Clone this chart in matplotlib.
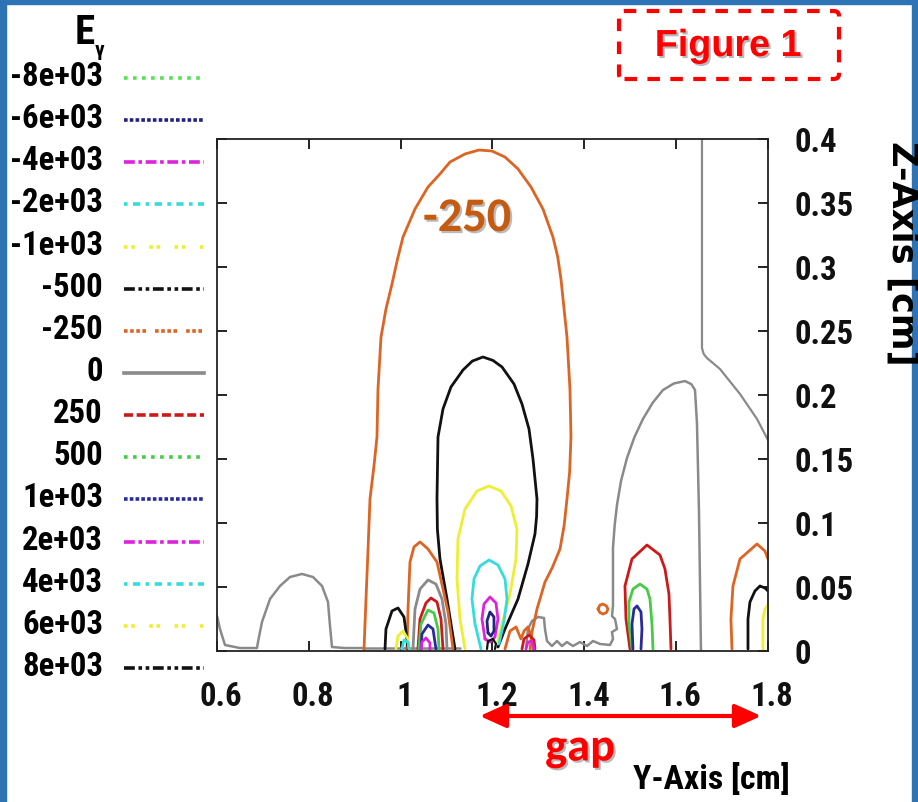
import matplotlib
matplotlib.use("Agg")
import matplotlib.pyplot as plt
from matplotlib import font_manager
from matplotlib.lines import Line2D
from matplotlib.patches import FancyBboxPatch, FancyArrowPatch, Rectangle
from matplotlib.transforms import ScaledTranslation
import matplotlib.patheffects as pe

# key of the contour levels (E_y)
levels = ["-8e+03", "-6e+03", "-4e+03", "-2e+03", "-1e+03", "-500", "-250", "0",
          "250", "500", "1e+03", "2e+03", "4e+03", "6e+03", "8e+03"]
level_colors = ["#55e055", "#23237f", "#dd22dd", "#33dddd", "#eeee33", "#111111",
                "#dd6422", "#8a8a8a", "#cc1a1a", "#44cc44", "#2a2aa0", "#dd22dd",
                "#33dddd", "#eeee33", "#111111"]
level_dashes = [(0, (1, 1.5)), (0, (1, 0.6)), (0, (3, 1, 1, 1)), (0, (1, 1.5, 2, 1.5)),
                (0, (1, 1, 1, 4)), (0, (3, 1, 1, 1, 1, 1)), (0, (1, 0.7, 1, 0.7, 1, 0.7, 1, 2.5)),
                "-", (0, (2.5, 1)), (0, (1, 1.5)), (0, (1, 0.6)), (0, (3, 1, 1, 1)),
                (0, (1, 1.5, 2, 1.5)), (0, (1, 1, 1, 4)), (0, (3, 1, 1, 1, 1, 1))]

x_ticks = [0.6, 0.8, 1.0, 1.2, 1.4, 1.6, 1.8]
x_ticklabels = ["0.6", "0.8", "1", "1.2", "1.4", "1.6", "1.8"]
z_ticks = [0, 0.05, 0.1, 0.15, 0.2, 0.25, 0.3, 0.35, 0.4]
z_ticklabels = ["0", "0.05", "0.1", "0.15", "0.2", "0.25", "0.3", "0.35", "0.4"]

# traced contour lines, (Y, Z) in cm
big_m250 = [(0.920, 0.000), (0.9245, 0.0406), (0.9290, 0.0800), (0.9332, 0.1188),
            (0.9420, 0.1450), (0.9484, 0.1672), (0.9506, 0.2047), (0.9572, 0.2453),
            (0.968, 0.2672), (0.9811, 0.2867), (0.9930, 0.3060), (1.0051, 0.3234),
            (1.0312, 0.3453), (1.0595, 0.3625), (1.0856, 0.3727), (1.1074, 0.3820),
            (1.1401, 0.3883), (1.1706, 0.3914), (1.1989, 0.3906), (1.2272, 0.3859),
            (1.2555, 0.3766), (1.2838, 0.3625), (1.3099, 0.3453), (1.3317, 0.3234),
            (1.3420, 0.3080), (1.3491, 0.2906), (1.3622, 0.2453), (1.3687, 0.2047),
            (1.3709, 0.1672), (1.3680, 0.1400), (1.3622, 0.1188), (1.3560, 0.0980),
            (1.3470, 0.0797), (1.3300, 0.0650), (1.3143, 0.0539), (1.2969, 0.0328),
            (1.2860, 0.0148), (1.2817, 0.0016)]
mid_m500 = [(1.1183, 0.0016), (1.1009, 0.0406), (1.0856, 0.0719), (1.0800, 0.0950),
            (1.0791, 0.1188), (1.0813, 0.1672), (1.0922, 0.1891), (1.1096, 0.2063),
            (1.1357, 0.2195), (1.1560, 0.2265), (1.1793, 0.2297), (1.2010, 0.2270),
            (1.2207, 0.2219), (1.2468, 0.2086), (1.2642, 0.1930), (1.2795, 0.1734),
            (1.2882, 0.1500), (1.2969, 0.1188), (1.2960, 0.1050), (1.2925, 0.0914),
            (1.2773, 0.0680), (1.2555, 0.0406), (1.2272, 0.0172), (1.2119, 0.0031)]
mid_m1e3 = [(1.1401, 0.0016), (1.1292, 0.0250), (1.1227, 0.0563), (1.1248, 0.0875),
            (1.1401, 0.1109), (1.1662, 0.1250), (1.1924, 0.1289), (1.2185, 0.1250),
            (1.2403, 0.1133), (1.2533, 0.0953), (1.2511, 0.0719), (1.2381, 0.0445),
            (1.2207, 0.0211), (1.2098, 0.0055)]
mid_m2e3 = [(1.1749, 0.0016), (1.1619, 0.0211), (1.1553, 0.0406), (1.1597, 0.0563),
            (1.1728, 0.0664), (1.1924, 0.0711), (1.2119, 0.0672), (1.2272, 0.0563),
            (1.2316, 0.0406), (1.2250, 0.0234), (1.2141, 0.0055)]
mid_m4e3 = [(1.1836, 0.0094), (1.1771, 0.0250), (1.1815, 0.0367), (1.1945, 0.0422),
            (1.2076, 0.0375), (1.2119, 0.0250), (1.2054, 0.0109), (1.1945, 0.0070),
            (1.1836, 0.0094)]
mid_m6e3 = [(1.1902, 0.0141), (1.1880, 0.0234), (1.1945, 0.0305), (1.2032, 0.0266),
            (1.2032, 0.0156), (1.1967, 0.0117), (1.1902, 0.0141)]
mid_m500_dot = [(1.1880, 0.0016), (1.1902, 0.0078), (1.2010, 0.0094), (1.2076, 0.0055),
                (1.2054, 0.0016)]

left_m250 = [(1.0138, 0.0016), (1.0160, 0.0328), (1.0203, 0.0695), (1.0290, 0.0813),
             (1.0421, 0.0852), (1.0595, 0.0797), (1.0791, 0.0695), (1.0922, 0.0484),
             (1.1031, 0.0305), (1.1096, 0.0133), (1.1140, 0.0016)]
left_0 = [(1.0268, 0.0016), (1.0312, 0.0328), (1.0421, 0.0484), (1.0595, 0.0555),
          (1.0769, 0.0523), (1.0900, 0.0406), (1.0987, 0.0211), (1.1009, 0.0016)]
left_250 = [(1.0377, 0.0016), (1.0421, 0.0250), (1.0551, 0.0375), (1.0660, 0.0414),
            (1.0791, 0.0383), (1.0878, 0.0250), (1.0922, 0.0016)]
left_500 = [(1.0399, 0.0016), (1.0443, 0.0211), (1.0595, 0.0320), (1.0726, 0.0297),
            (1.0813, 0.0172), (1.0834, 0.0016)]
left_1e3 = [(1.0443, 0.0016), (1.0464, 0.0133), (1.0595, 0.0203), (1.0704, 0.0172),
            (1.0769, 0.0016)]
left_2e3 = [(1.0443, 0.0008), (1.0464, 0.0070), (1.0551, 0.0102), (1.0638, 0.0063),
            (1.0638, 0.0008)]
left_8e3 = [(0.9659, 0.0016), (0.9680, 0.0172), (0.9811, 0.0313), (0.9942, 0.0336),
            (1.0072, 0.0266), (1.0138, 0.0094), (1.0160, 0.0016)]
left_6e3 = [(0.9898, 0.0016), (0.9942, 0.0117), (1.0051, 0.0156), (1.0160, 0.0094),
            (1.0181, 0.0016)]
left_4e3 = [(1.0029, 0.0016), (1.0072, 0.0086), (1.0160, 0.0070), (1.0181, 0.0016)]

gap_m250 = [(1.2272, 0.0016), (1.2381, 0.0156), (1.2512, 0.0188), (1.2620, 0.0094),
            (1.2686, 0.0156), (1.2773, 0.0188), (1.2860, 0.0094), (1.2880, 0.0016)]
gap_250 = [(1.2642, 0.0016), (1.2686, 0.0094), (1.2795, 0.0125), (1.2904, 0.0086),
           (1.2925, 0.0016)]
gap_2e3 = [(1.2729, 0.0016), (1.2773, 0.0070), (1.2860, 0.0078), (1.2904, 0.0016)]
gap_m250_ring = [(1.4297, 0.0328), (1.4340, 0.0359), (1.4406, 0.0367), (1.4480, 0.0352),
                 (1.4515, 0.0328), (1.4480, 0.0300), (1.4406, 0.0289), (1.4340, 0.0300),
                 (1.4297, 0.0328)]

zero_arc = [(1.2729, 0.0016), (1.2773, 0.0172), (1.2860, 0.0234), (1.2991, 0.0266),
            (1.3121, 0.0258), (1.3143, 0.0172), (1.3187, 0.0078), (1.3295, 0.0039),
            (1.3404, 0.0078), (1.3513, 0.0039), (1.3622, 0.0070), (1.3753, 0.0039),
            (1.3905, 0.0070), (1.4058, 0.0039), (1.4189, 0.0078), (1.4341, 0.0055),
            (1.4559, 0.0047), (1.4624, 0.0094), (1.4602, 0.0148), (1.4711, 0.0172),
            (1.4668, 0.0250), (1.4602, 0.0273), (1.4624, 0.0352), (1.4624, 0.0430),
            (1.4624, 0.0805), (1.4660, 0.0980), (1.4711, 0.1141), (1.4800, 0.1330),
            (1.4929, 0.1508), (1.5090, 0.1670), (1.5277, 0.1813), (1.5490, 0.1940),
            (1.5713, 0.2039), (1.5950, 0.2090), (1.6192, 0.2109), (1.6330, 0.2085),
            (1.6410, 0.2039), (1.6453, 0.1781), (1.6497, 0.1086), (1.6540, 0.0008)]
zero_top = [(1.6562, 0.4000), (1.6562, 0.2367), (1.6600, 0.2320), (1.6671, 0.2289),
            (1.6954, 0.2203), (1.7390, 0.2008), (1.7760, 0.1813), (1.8000, 0.1648)]
zero_left = [(0.6000, 0.0273), (0.6065, 0.0172), (0.6174, 0.0047), (0.6501, 0.0023),
             (0.6871, 0.0023), (0.6893, 0.0070), (0.6980, 0.0227), (0.7154, 0.0406),
             (0.7372, 0.0508), (0.7590, 0.0578), (0.7851, 0.0602), (0.8091, 0.0578),
             (0.8287, 0.0508), (0.8417, 0.0383), (0.8461, 0.0195), (0.8504, 0.0031),
             (0.8788, 0.0023), (0.9201, 0.0023)]
zero_floor = [(0.9201, 0.0020), (1.0500, 0.0020), (1.1300, 0.0020)]

right_250 = [(1.4994, 0.0016), (1.4907, 0.0250), (1.4885, 0.0508), (1.5038, 0.0719),
             (1.5364, 0.0828), (1.5647, 0.0750), (1.5756, 0.0641), (1.5843, 0.0445),
             (1.5865, 0.0250), (1.5887, 0.0016)]
right_500 = [(1.5038, 0.0016), (1.4972, 0.0211), (1.4972, 0.0383), (1.5059, 0.0484),
             (1.5212, 0.0523), (1.5364, 0.0484), (1.5429, 0.0406), (1.5473, 0.0211),
             (1.5495, 0.0016)]
right_1e3 = [(1.5059, 0.0016), (1.5038, 0.0211), (1.5081, 0.0328), (1.5147, 0.0352),
             (1.5234, 0.0305), (1.5255, 0.0172), (1.5234, 0.0016)]
edge_m250 = [(1.7215, 0.0016), (1.7193, 0.0250), (1.7237, 0.0508), (1.7390, 0.0719),
             (1.7760, 0.0836), (1.7934, 0.0781), (1.8000, 0.0719)]
edge_m500 = [(1.7564, 0.0016), (1.7564, 0.0250), (1.7607, 0.0383), (1.7716, 0.0469),
             (1.7825, 0.0508), (1.7934, 0.0492), (1.8000, 0.0469)]
edge_m1e3 = [(1.7890, 0.0016), (1.7890, 0.0250), (1.7934, 0.0328), (1.8000, 0.0359)]

contours = [
    ("0", zero_left, 1.8), ("0", zero_floor, 1.8), ("0", zero_top, 1.6), ("0", zero_arc, 1.8),
    ("-250", big_m250, 2.0), ("-500", mid_m500, 2.0), ("-1e+03", mid_m1e3, 2.0),
    ("-2e+03", mid_m2e3, 2.0), ("-4e+03", mid_m4e3, 2.0), ("-6e+03", mid_m6e3, 2.0),
    ("-500", mid_m500_dot, 1.6),
    ("-250", left_m250, 2.0), ("0", left_0, 2.0), ("250", left_250, 2.0),
    ("500", left_500, 2.0), ("1e+03", left_1e3, 2.0), ("2e+03", left_2e3, 2.0),
    ("8e+03", left_8e3, 2.0), ("6e+03", left_6e3, 2.0), ("4e+03", left_4e3, 2.0),
    ("-250", gap_m250, 2.0), ("250", gap_250, 2.0), ("2e+03", gap_2e3, 2.0),
    ("-250", gap_m250_ring, 2.0),
    ("250", right_250, 2.0), ("500", right_500, 2.0), ("1e+03", right_1e3, 2.0),
    ("-250", edge_m250, 2.0), ("-500", edge_m500, 2.0), ("-1e+03", edge_m1e3, 2.0),
]

# pick fonts that are actually installed
installed = {f.name for f in font_manager.fontManager.ttflist}


def first_font(prefs):
    for name in prefs:
        if name in installed:
            return name
    return "DejaVu Sans"


narrow = first_font(["Liberation Sans Narrow", "Arial Narrow", "Roboto Condensed",
                     "PT Sans Narrow", "Asap Condensed", "Archivo Narrow", "Liberation Sans"])
arial = first_font(["Liberation Sans", "Arimo", "DejaVu Sans"])
calibri = first_font(["Carlito", "Lato", "Open Sans"])
wide = first_font(["DejaVu Sans"])

W, H = 918, 803
fig = plt.figure(figsize=(W / 100, H / 100), dpi=100)
fig.patch.set_facecolor("white")
renderer = fig.canvas.get_renderer()


def fit_size(text, family, target_px, base=24.0):
    t = fig.text(0, 0, text, fontsize=base, family=family, fontweight="bold")
    w = t.get_window_extent(renderer).width
    t.remove()
    return base * target_px / w


def fx(px):
    return px / W


def fy(py):
    return 1 - py / H


tick_fs = fit_size("-8e+03", narrow, 93)
xlab_fs = fit_size("Y-Axis [cm]", narrow, 157)
zlab_fs = fit_size("Z-Axis [cm]", wide, 225)
fig_fs = fit_size("Figure 1", arial, 147)
m250_fs = fit_size("-250", calibri, 88)
gap_fs = fit_size("gap", calibri, 70)

# slide border (blue)
blue = "#2e74b5"
for x0, y0, w, h in [(0, 0, 6, H), (0, 0, W, 5), (W - 6, 0, 6, H)]:
    fig.patches.append(Rectangle((fx(x0), fy(y0 + h)), w / W, h / H,
                                 transform=fig.transFigure, color=blue, zorder=0))

ax = fig.add_axes([fx(217), fy(652), 551 / W, 512 / H])
color_of = dict(zip(levels, level_colors))
for lvl, pts, lw in contours:
    ys = [p[0] for p in pts]
    zs = [p[1] for p in pts]
    ax.plot(ys, zs, color=color_of[lvl], lw=lw, solid_joinstyle="round",
            solid_capstyle="round")

ax.set_xlim(0.6, 1.8)
ax.set_ylim(0, 0.4)
ax.set_xticks(x_ticks)
ax.set_xticklabels(x_ticklabels)
ax.set_yticks(z_ticks)
ax.set_yticklabels(z_ticklabels)
ax.tick_params(direction="in", length=7, width=1.3, top=True, right=True,
               left=True, bottom=True, labelleft=False, labelright=True,
               labelsize=tick_fs, colors="#111111")
ax.tick_params(axis="x", pad=21)
ax.tick_params(axis="y", pad=19)
shift = ScaledTranslation(4 / 100, 0, fig.dpi_scale_trans)
for lab in ax.get_xticklabels() + ax.get_yticklabels():
    lab.set_fontfamily(narrow)
    lab.set_fontweight("bold")
for lab in ax.get_xticklabels():
    lab.set_transform(lab.get_transform() + shift)
for s in ax.spines.values():
    s.set_linewidth(1.3)
    s.set_color("#222222")

fig.text(fx(711), fy(780), "Y-Axis [cm]", ha="center", va="center", fontsize=xlab_fs,
         fontweight="bold", family=narrow)
fig.text(fx(902), fy(253), "Z-Axis [cm]", ha="center", va="center", fontsize=zlab_fs,
         fontweight="bold", rotation=270, family=wide)

# key on the left
fig.text(fx(95), fy(33), "E", ha="right", va="center", fontsize=tick_fs * 1.25,
         fontweight="bold", family=narrow)
fig.text(fx(95), fy(50), "\u03b3", ha="left", va="center", fontsize=tick_fs * 0.65,
         fontweight="bold", family=[narrow, "DejaVu Sans"])
for i, lab in enumerate(levels):
    yc = 77 + 42.14 * i
    fig.text(fx(103), fy(yc), lab, ha="right", va="center", fontsize=tick_fs,
             fontweight="bold", family=narrow)
    fig.lines.append(Line2D([fx(124), fx(204)], [fy(yc + 2), fy(yc + 2)],
                            transform=fig.transFigure, color=level_colors[i],
                            lw=2.6, linestyle=level_dashes[i]))

# annotations
shadow = [pe.withSimplePatchShadow(offset=(1.5, -1.5), shadow_rgbFace="#777777", alpha=0.5)]
fig.text(fx(467), fy(219), "-250", ha="center", va="center", fontsize=m250_fs,
         fontweight="bold", color="#c55a11", family=calibri, path_effects=shadow)

box = FancyBboxPatch((fx(619), fy(80)), 220 / W, 68 / H,
                     boxstyle="round,pad=0,rounding_size=0.006",
                     transform=fig.transFigure, fill=False, edgecolor="#ff0000",
                     lw=3, linestyle=(0, (3, 2.5)))
fig.patches.append(box)
fig.text(fx(728), fy(47), "Figure 1", ha="center", va="center", fontsize=fig_fs,
         fontweight="bold", color="#ff0000", family=arial, path_effects=shadow)

arrow = FancyArrowPatch((fx(477), fy(717)), (fx(764), fy(717)),
                        transform=fig.transFigure,
                        arrowstyle="<|-|>,head_length=1.0,head_width=0.45",
                        mutation_scale=16, color="#ff0000", lw=3)
fig.patches.append(arrow)
fig.text(fx(580), fy(749), "gap", ha="center", va="center", fontsize=gap_fs,
         fontweight="bold", color="#ff0000", family=calibri, path_effects=shadow)

fig.savefig("out.png", dpi=100)
